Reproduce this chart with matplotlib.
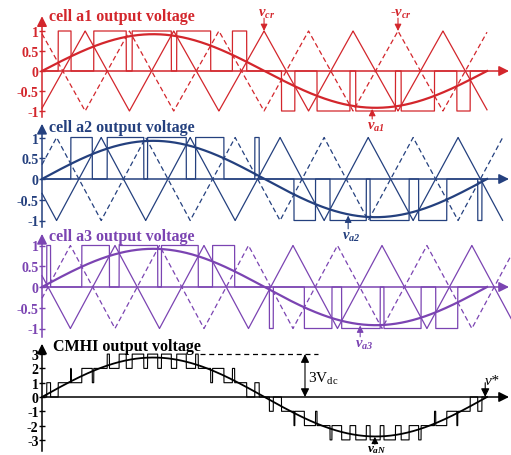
import numpy as np
import matplotlib.pyplot as plt

plt.rcParams['mathtext.fontset'] = 'custom'
plt.rcParams['mathtext.it'] = 'Liberation Serif:italic:bold'
plt.rcParams['mathtext.rm'] = 'Liberation Serif:italic:bold'
plt.rcParams['mathtext.sf'] = 'Liberation Serif'
plt.rcParams['mathtext.bf'] = 'Liberation Serif:bold'

# ---- values (time as fraction of one fundamental period) ----
m_ref = 0.92
cell_titles = ['cell a1 output voltage', 'cell a2 output voltage', 'cell a3 output voltage']
cell_colors = ['#d3262c', '#24407e', '#7b44b2']
carrier_peaks = [
    [0.097, 0.296, 0.499, 0.699, 0.901],
    [0.133, 0.333, 0.535, 0.733, 0.935],
    [0.164, 0.364, 0.564, 0.764, 0.966],
]
carrier_end = [1.0, 1.035, 1.07]
cell_ticks = [1, 0.5, 0, -0.5, -1]
cell_ticklabels = ['1', '0.5', '0', '-0.5', '-1']
total_ticks = [3, 2, 1, 0, -1, -2, -3]
total_ticklabels = ['3', '2', '1', '0', '-1', '-2', '-3']
ref_labels = ['$v_{a1}$', '$v_{a2}$', '$v_{a3}$']
ref_label_t = [0.742, 0.688, 0.715]

# panel layout in pixels: top, bottom, zero line, pixels per unit
W, H = 511, 456
X0, XW = 42, 445
panels = [(0, 120, 72, 40), (120, 228, 180, 41.5), (228, 340, 288, 41.5), (340, 456, 398, 14.3)]
spine_bounds = [(-1.15, 1.2), (-1.15, 1.15), (-1.2, 1.1), (-3.8, 3.3)]
arrow_tips = [1.37, 1.33, 1.28, 3.72]
title_y = [1.375, 1.25, 1.23, 3.57]
xlim = (-X0 / XW, (W - X0) / XW)
x_tip = (509 - X0) / XW

SERIF = 'Liberation Serif'


def carrier(peaks, t):
    peaks = np.asarray(peaks)
    half = np.mean(np.diff(peaks)) / 2
    vx = [peaks[0] - 2 * half, peaks[0] - half]
    for i, p in enumerate(peaks):
        vx.append(p)
        vx.append((p + peaks[i + 1]) / 2 if i < len(peaks) - 1 else p + half)
    vx.append(peaks[-1] + 2 * half)
    vy = [1.0 if i % 2 == 0 else -1.0 for i in range(len(vx))]
    return np.interp(t, vx, vy)


def make_axes(fig, top, bottom, zero, ppu):
    ax = fig.add_axes([0, 1 - bottom / H, 1, (bottom - top) / H])
    ax.set_xlim(xlim)
    ax.set_ylim((zero - bottom) / ppu, (zero - top) / ppu)
    ax.patch.set_alpha(0)
    for s in ['top', 'right', 'bottom']:
        ax.spines[s].set_visible(False)
    ax.spines['left'].set_position(('data', 0))
    ax.set_xticks([])
    return ax


def axis_arrows(ax, color, ybounds, ytip, lw=1.1):
    ax.spines['left'].set_bounds(*ybounds)
    ax.spines['left'].set_color(color)
    ax.spines['left'].set_linewidth(lw)
    style = '-|>,head_length=0.6,head_width=0.3'
    ax.annotate('', xy=(0, ytip), xytext=(0, ybounds[1] - 0.01),
                arrowprops=dict(arrowstyle=style, color=color, lw=lw, shrinkA=0, shrinkB=0),
                annotation_clip=False)
    ax.annotate('', xy=(x_tip, 0), xytext=(0, 0),
                arrowprops=dict(arrowstyle=style, color=color, lw=lw, shrinkA=0, shrinkB=0),
                annotation_clip=False)


fig = plt.figure(figsize=(W / 100, H / 100), dpi=100)
fig.patch.set_facecolor('white')

t = np.linspace(0, 1, 40001)
ref = m_ref * np.sin(2 * np.pi * t)
outputs = []

for k in range(3):
    col = cell_colors[k]
    ax = make_axes(fig, *panels[k])
    axis_arrows(ax, col, spine_bounds[k], arrow_tips[k])

    tc = np.linspace(0, carrier_end[k], 20001)
    c = carrier(carrier_peaks[k], tc)
    ax.plot(tc, c, color=col, lw=0.9, clip_on=False)
    ax.plot(tc, -c, color=col, lw=0.9, ls=(0, (4, 2.5)), clip_on=False)

    cg = np.abs(carrier(carrier_peaks[k], t))
    out = np.where(ref > cg, 1.0, np.where(ref < -cg, -1.0, 0.0))
    outputs.append(out)
    ax.plot(t, out, color=col, lw=0.9)
    ax.plot(t, ref, color=col, lw=1.6)

    ax.set_yticks(cell_ticks)
    ax.set_yticklabels(cell_ticklabels, fontweight='bold', family=SERIF, fontsize=10)
    ax.tick_params(axis='y', direction='inout', length=5, width=1, colors=col, pad=0)

    ax.text(0.016, title_y[k], cell_titles[k], color=col, fontsize=11.5, fontweight='bold',
            family=SERIF, ha='left', va='center')

    # reference label with small arrow pointing at the curve
    tl = ref_label_t[k]
    yv = m_ref * np.sin(2 * np.pi * tl)
    ax.annotate('', xy=(tl, yv - 0.03), xytext=(tl, -1.2),
                arrowprops=dict(arrowstyle='-|>,head_length=0.4,head_width=0.2', color=col,
                                lw=0.8, shrinkA=0, shrinkB=0), annotation_clip=False)
    ax.text(tl + 0.008, -1.36, ref_labels[k], color=col, fontsize=10.5, ha='center',
            va='center', clip_on=False)

    if k == 0:
        for tp, lab in [(0.499, '$v_{cr}$'), (0.80, '-$v_{cr}$')]:
            ax.annotate('', xy=(tp, 1.0), xytext=(tp, 1.32),
                        arrowprops=dict(arrowstyle='-|>,head_length=0.4,head_width=0.2',
                                        color=col, lw=0.8, shrinkA=0, shrinkB=0),
                        annotation_clip=False)
            ax.text(tp + 0.006, 1.45, lab, color=col, fontsize=10.5, ha='center',
                    va='center', clip_on=False, family=SERIF, fontweight='bold')

# CMHI output panel
ax = make_axes(fig, *panels[3])
axis_arrows(ax, 'black', spine_bounds[3], arrow_tips[3])
total = outputs[0] + outputs[1] + outputs[2]
ax.plot(t, total, color='black', lw=0.8)
ax.plot(t, 3 * ref, color='black', lw=1.3)
ax.set_yticks(total_ticks)
ax.set_yticklabels(total_ticklabels, fontweight='bold', family=SERIF, fontsize=10)
ax.tick_params(axis='y', direction='inout', length=5, width=1, colors='black', pad=0)
ax.text(0.025, title_y[3], 'CMHI output voltage', color='black', fontsize=11.5,
        fontweight='bold', family=SERIF, ha='left', va='center')

ax.plot([0.355, 0.62], [3, 3], color='black', lw=0.9, ls=(0, (4, 3)))
ax.annotate('', xy=(0.591, 0), xytext=(0.591, 3),
            arrowprops=dict(arrowstyle='<|-|>,head_length=0.5,head_width=0.25', color='black',
                            lw=0.8, shrinkA=0, shrinkB=0))
ax.text(0.598, 1.3, '3V$_{\\mathsf{dc}}$', color='black', fontsize=11, family=SERIF,
        ha='left', va='center')

ax.annotate('', xy=(0.996, 0), xytext=(0.996, 1.0),
            arrowprops=dict(arrowstyle='-|>,head_length=0.5,head_width=0.25', color='black',
                            lw=0.8, shrinkA=0, shrinkB=0), annotation_clip=False)
ax.text(1.012, 1.15, 'v*', color='black', fontsize=11, family=SERIF, style='italic',
        ha='center', va='center')

ax.annotate('', xy=(0.748, -2.78), xytext=(0.748, -3.3),
            arrowprops=dict(arrowstyle='-|>,head_length=0.4,head_width=0.2', color='black',
                            lw=0.8, shrinkA=0, shrinkB=0), annotation_clip=False)
ax.text(0.752, -3.62, '$v_{aN}$', color='black', fontsize=9.5, ha='center',
        va='center', clip_on=False)

fig.savefig('out.png', dpi=100)
